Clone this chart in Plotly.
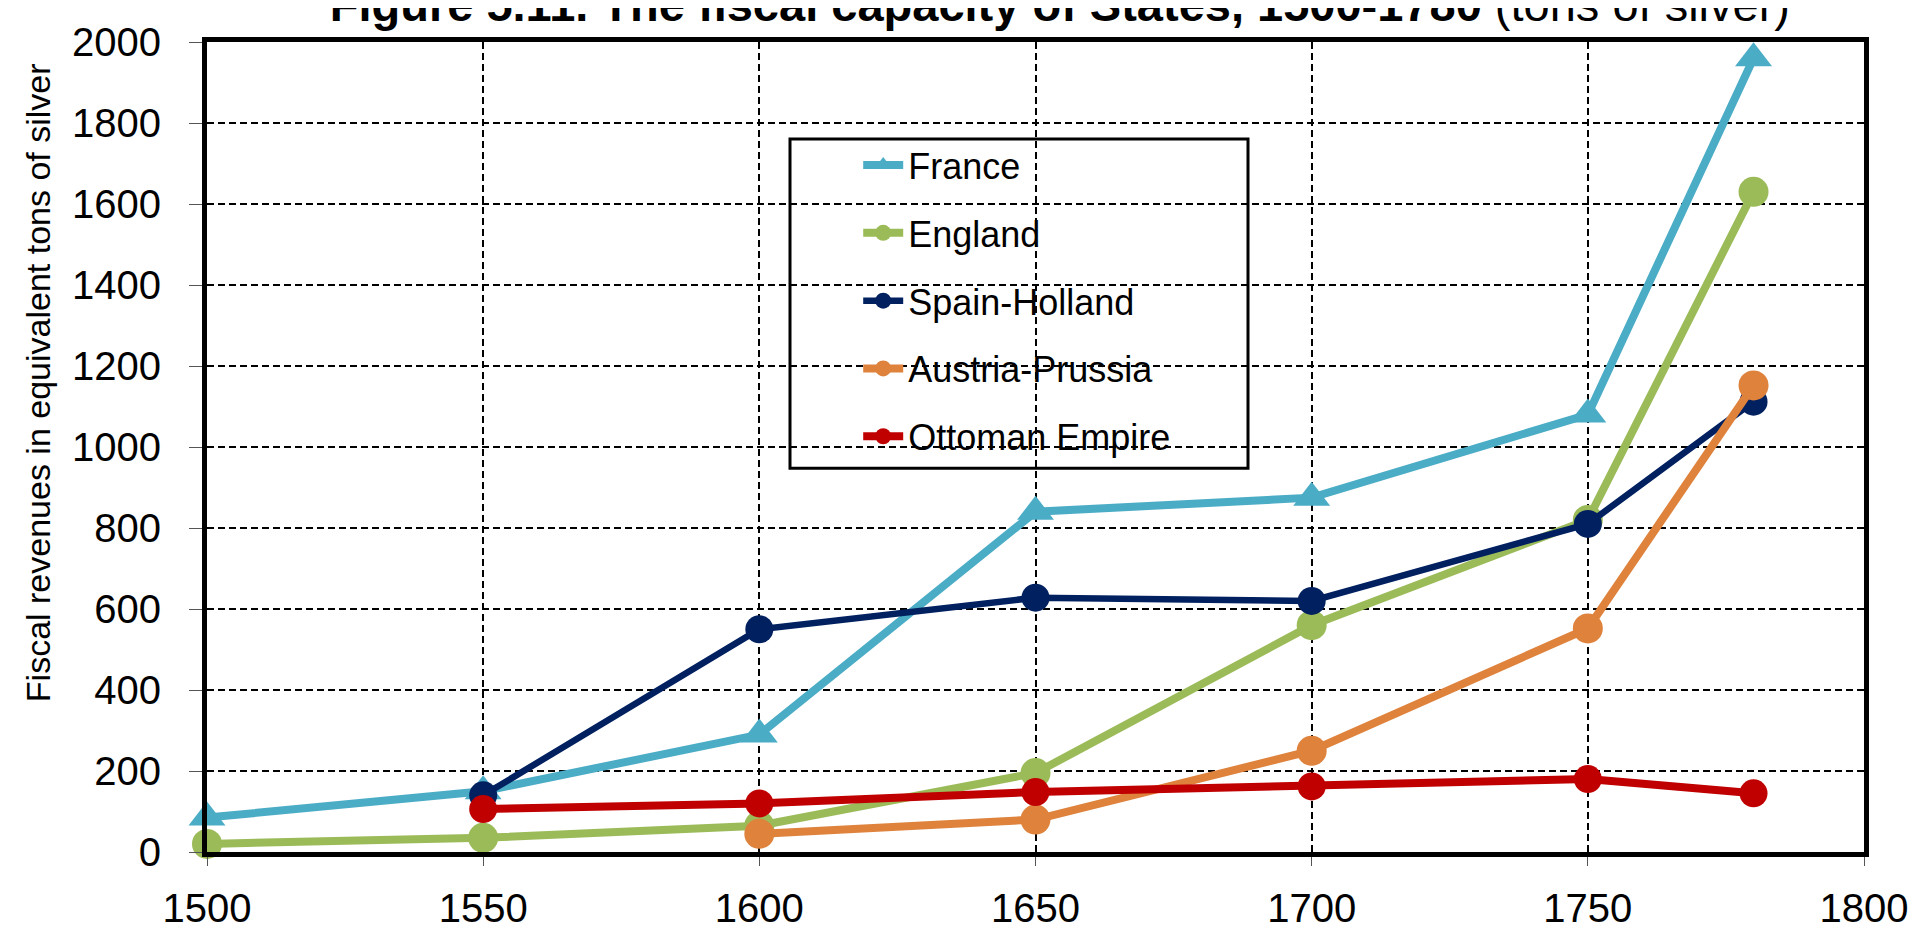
import plotly.graph_objects as go

france_years = [1500, 1550, 1600, 1650, 1700, 1750, 1780]
france = [85, 150, 290, 840, 875, 1080, 1960]

england_years = [1500, 1550, 1600, 1650, 1700, 1750, 1780]
england = [20, 35, 65, 195, 560, 820, 1630]

spain_years = [1550, 1600, 1650, 1700, 1750, 1780]
spain = [140, 550, 628, 620, 810, 1112]

austria_years = [1600, 1650, 1700, 1750, 1780]
austria = [45, 80, 250, 552, 1152]

ottoman_years = [1550, 1600, 1650, 1700, 1750, 1780]
ottoman = [106, 120, 148, 162, 180, 145]

x_ticks = [1500, 1550, 1600, 1650, 1700, 1750, 1800]
y_ticks = [0, 200, 400, 600, 800, 1000, 1200, 1400, 1600, 1800, 2000]

series = [
    ("France", france_years, france, "#4BACC6", "triangle-up", 32, 8),
    ("England", england_years, england, "#9BBB59", "circle", 30, 8),
    ("Spain-Holland", spain_years, spain, "#002060", "circle", 28, 6.5),
    ("Austria-Prussia", austria_years, austria, "#DE823C", "circle", 30, 8),
    ("Ottoman Empire", ottoman_years, ottoman, "#C00000", "circle", 28, 8),
]

FONT = "Arial, 'Liberation Sans', sans-serif"

fig = go.Figure()
for name, xs, ys, col, sym, sz, lw in series:
    fig.add_trace(go.Scatter(
        x=xs, y=ys, name=name, mode="lines+markers",
        line=dict(color=col, width=lw),
        marker=dict(color=col, symbol=sym, size=sz),
        cliponaxis=False, legendgroup=name,
    ))

fig.update_layout(
    width=1923, height=934,
    margin=dict(l=199, r=67, t=27, b=71),
    paper_bgcolor="white", plot_bgcolor="white",
    font=dict(family=FONT, color="black"),
    title=dict(
        text="<b>Figure 5.11. The fiscal capacity of States, 1500-1780</b> (tons of silver)",
        font=dict(size=47, family=FONT, color="black"),
        x=0.547, xanchor="center", xref="container",
        y=1 - 13 / 934, yanchor="bottom", yref="container",
    ),
    showlegend=True,
    legend=dict(
        x=0.393, xanchor="left", y=0.885, yanchor="top",
        font=dict(size=36, family=FONT, color="black"),
        bgcolor="rgba(0,0,0,0)", borderwidth=0,
        traceorder="grouped", tracegroupgap=18,
        itemwidth=40,
    ),
    xaxis=dict(
        range=[1500, 1800], tickvals=x_ticks, ticktext=[str(v) for v in x_ticks],
        showline=True, linecolor="black", linewidth=5, mirror=True,
        showgrid=True, gridcolor="black", gridwidth=1.5, griddash="7px,4px",
        ticks="outside", ticklen=9, tickcolor="#555", tickwidth=1,
        tickfont=dict(size=40, family=FONT, color="black"),
        ticklabelstandoff=8, zeroline=False,
    ),
    yaxis=dict(
        range=[0, 2000], tickvals=y_ticks, ticktext=[str(v) for v in y_ticks],
        showline=True, linecolor="black", linewidth=5, mirror=True,
        showgrid=True, gridcolor="black", gridwidth=1.5, griddash="7px,4px",
        ticks="outside", ticklen=13, tickcolor="#555", tickwidth=1,
        tickfont=dict(size=40, family=FONT, color="black"),
        ticklabelstandoff=20, zeroline=False,
    ),
)

fig.add_annotation(
    text="Fiscal revenues in equivalent tons of silver",
    xref="paper", yref="paper", x=-0.102, y=0.58,
    xanchor="center", yanchor="middle", textangle=-90, showarrow=False,
    font=dict(size=34, family=FONT, color="black"),
)

# legend frame
fig.add_shape(
    type="rect", xref="paper", yref="paper",
    x0=(782 - 199) / 1657, x1=(1240 - 199) / 1657,
    y0=(863 - 467) / 836, y1=(863 - 127) / 836,
    line=dict(color="black", width=3), fillcolor="rgba(0,0,0,0)", layer="above",
)

fig.write_html("out.html")
